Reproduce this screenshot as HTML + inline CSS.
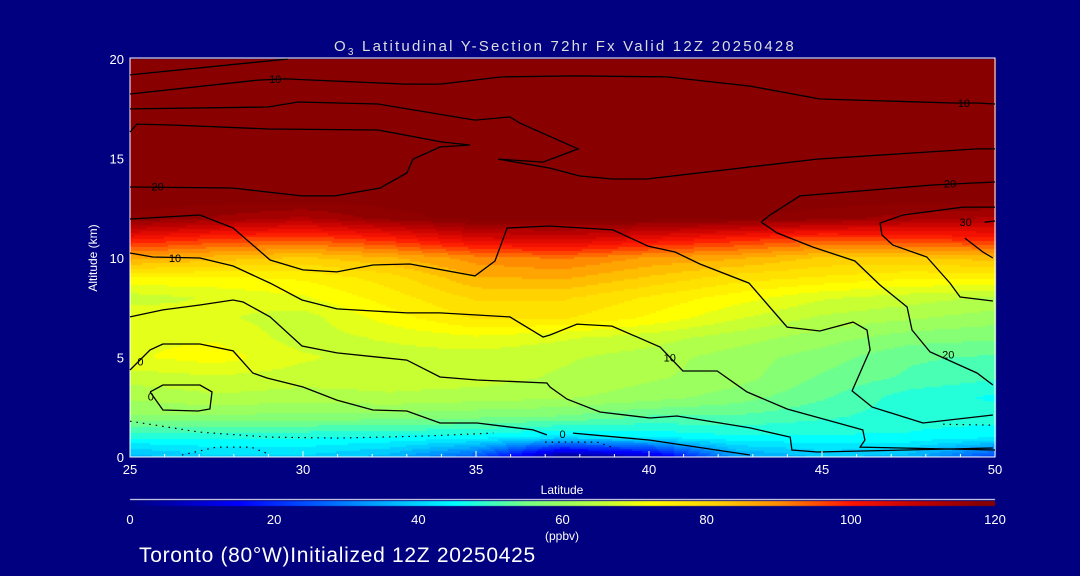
<!DOCTYPE html>
<html><head><meta charset="utf-8"><style>
html,body{margin:0;padding:0;background:#000080;}
#wrap{position:relative;width:1080px;height:576px;background:#000080;overflow:hidden;font-family:"Liberation Sans",sans-serif;color:#fff;}
canvas{position:absolute;left:0;top:0;}
svg{position:absolute;left:0;top:0;}
</style></head><body>
<div id="wrap">
<canvas id="cv" width="1080" height="576"></canvas>
<svg id="sv" width="1080" height="576"></svg>
</div>
<script>
// ---- data ----
const lats = [25, 27.5, 30, 32.5, 35, 37.5, 40, 42.5, 45, 47.5, 50];
const alts = [0,1,2,3,4,5,6,7,8,9,10,11,12,13,20];
const ozone = [
 [36,40,40,36,25,0,8,33,38,36,22],
 [47,47,47,46,45,42,44,46,46,46,44],
 [58,58,57,57,56,55,52,52,50,48,48],
 [62,64,63,64,63,62,60,57,53,48,46],
 [66,67,66,66,66,64,62,60,55,52,50],
 [70,72,68,66,66,65,63,60,57,53,52],
 [70,70,66,68,70,68,66,63,60,57,56],
 [70,68,66,72,77,77,73,68,64,62,60],
 [66,68,70,75,80,80,76,72,68,66,64],
 [73,73,74,78,85,86,82,78,76,74,74],
 [87,84,82,85,90,92,88,86,82,82,84],
 [102,98,96,100,106,108,104,100,96,98,100],
 [118,115,112,117,120,120,120,119,117,114,112],
 [120,120,120,120,120,120,120,120,120,120,120],
 [120,120,120,120,120,120,120,120,120,120,120]
];
const xTicks = [25,30,35,40,45,50];
const yTicks = [0,5,10,15,20];
const cbTicks = [0,20,40,60,80,100,120];
const cA = [[25,11.96],[27.02,12.16],[27.98,11.51],[29.05,9.9],[30.0,9.4],[30.98,9.3],[32.02,9.65],[33.09,9.7],[34.97,9.1],[35.55,9.85],[35.9,11.51],[37.14,11.61],[38.96,11.41],[39.97,10.6],[40.75,10.3],[41.47,9.7],[42.89,8.74],[43.99,6.53],[44.94,6.33],[45.9,6.78],[46.3,6.38],[46.39,5.38],[45.87,3.32],[46.45,2.51],[47.92,1.71],[49.94,2.11]];
const cB = [[25,10.25],[25.66,10.05],[27.02,10.0],[27.98,9.6],[29.05,8.74],[29.97,7.89],[30.98,7.44],[33.0,7.24],[33.96,7.24],[35.98,7.04],[36.94,6.03],[37.14,6.13],[37.92,6.68],[38.93,6.58],[40.32,5.53],[40.98,4.32],[41.97,4.32],[42.83,3.27],[43.99,2.41],[46.18,1.36],[46.24,0.85],[46.1,0.5],[50,0.35]];
const cC = [[25,7.04],[25.95,7.39],[27.02,7.64],[27.98,7.89],[28.27,7.79],[29.05,7.04],[29.97,5.58],[30.98,5.23],[33.0,4.87],[33.96,4.02],[35.03,3.87],[37.05,3.72],[37.14,3.52],[37.63,2.91],[38.58,2.26],[40.03,1.96],[40.81,2.06],[42.92,1.46],[44.08,1.0],[44.13,0.35],[44.86,0.25],[49.94,0.45]];
const cD = [[25,4.37],[25.58,5.38],[25.95,5.68],[27.02,5.68],[27.98,5.33],[28.55,4.22],[28.96,3.97],[30.0,3.52],[30.98,2.86],[32.02,2.36],[33.0,2.31],[33.96,1.71],[35.03,1.71],[36.65,1.36],[37.05,1.11]];
const cD2 = [[37.8,1.2],[40.03,0.85],[42.92,0.1]];
const cLoop = [[25.58,3.27],[25.95,3.62],[27.02,3.62],[27.37,3.27],[27.31,2.41],[26.97,2.31],[25.95,2.36],[25.58,3.27]];
const cE = [[43.24,11.81],[43.7,11.26],[44.74,10.55],[45.95,9.85],[46.68,8.64],[47.46,7.54],[47.6,6.38],[48.12,5.28],[49.48,4.22],[49.94,3.62]];
const cE2 = [[43.24,11.81],[43.5,12.16],[44.36,13.12],[48.2,13.67],[50,13.82]];
const cF = [[50,12.56],[49.08,12.56],[47.34,12.16],[46.68,11.76],[46.73,11.16],[47.05,10.65],[48.03,10.05],[48.7,8.74],[48.99,8.04],[49.94,7.84]];
const cF2 = [[49.7,11.8],[50,11.86]];
const cF3 = [[49.13,11.0],[49.65,10.3],[49.94,10.0]];
const cT1 = [[25,19.2],[29.57,20.0]];
const cT2 = [[25,18.24],[28.7,18.94],[29.48,19.0],[32.95,18.74],[33.96,18.74],[35.75,19.1],[37.86,19.15],[40.52,19.1],[42.92,18.64],[44.94,17.99],[48.79,17.79],[49.45,17.79],[50,17.74]];
const cT3 = [[25,17.49],[28.99,17.59],[29.86,17.84],[32.17,17.74],[34.97,16.93],[35.98,17.09],[36.27,16.78],[37.95,15.48],[36.94,14.82],[35.64,14.97]];
const cT3b = [[35.64,14.97],[37.14,14.52],[38.0,14.12],[38.96,13.97],[39.94,13.97],[44.86,14.97],[49.48,15.48],[50,15.48]];
const cT4 = [[25,16.33],[25.2,16.73],[26.3,16.68],[28.99,16.48],[32.17,16.43],[34.02,15.83],[34.83,15.68],[33.96,15.58],[33.18,14.97],[33.0,14.27],[32.23,13.52],[30.92,13.12],[29.97,13.12],[27.95,13.52],[25,13.57]];
const dots1 = [[25,1.8],[27,1.25],[29,1.0],[31,0.95],[33.5,1.05],[35.5,1.2]];
const dots2 = [[26.5,0.1],[27.5,0.5],[28.5,0.5],[29.0,0.15]];
const dots3 = [[37,0.75],[38.5,0.75],[39.0,0.45]];
const dots4 = [[48.5,1.65],[50,1.6]];
const labels = [["10",26.3,10.0],["10",40.6,5.0],["0",37.5,1.15],["0",25.3,4.8],["0",25.6,3.05],["20",48.65,5.15],["20",48.7,13.75],["30",49.15,11.8],["10",29.2,19.0],["10",49.1,17.8],["20",25.8,13.6]];

// ---- axes ----
const PL=130, PR=995, PT=59, PB=457;
const X = lat => PL + (lat-25)/25*(PR-PL);
const Y = alt => PB - alt/20*(PB-PT);
const stops = [[0,[0,0,128]],[15,[0,0,255]],[30,[0,128,255]],[45,[0,255,255]],[55,[120,255,130]],[65,[190,255,60]],[72,[255,255,0]],[82,[255,205,0]],[90,[255,140,0]],[100,[255,20,0]],[110,[190,0,0]],[118,[136,0,0]],[120,[136,0,0]]];
function cmap(v){
  v=Math.max(0,Math.min(120,v));
  for(let i=1;i<stops.length;i++){ if(v<=stops[i][0]){const a=stops[i-1],b=stops[i],t=(v-a[0])/(b[0]-a[0]||1);
    return 'rgb('+a[1].map((c,k)=>Math.round(c+(b[1][k]-c)*t)).join(',')+')';}}
  return 'rgb(136,0,0)';
}
function idx(arr,v){for(let i=0;i<arr.length-1;i++){if(v<=arr[i+1])return i;}return arr.length-2;}
function val(lat,alt){
  const i=idx(lats,lat), j=idx(alts,alt);
  const tx=(lat-lats[i])/(lats[i+1]-lats[i]), ty=(alt-alts[j])/(alts[j+1]-alts[j]);
  const a=ozone[j][i],b=ozone[j][i+1],c=ozone[j+1][i],d=ozone[j+1][i+1];
  return (a*(1-tx)+b*tx)*(1-ty)+(c*(1-tx)+d*tx)*ty;
}
const cv=document.getElementById('cv'), ctx=cv.getContext('2d');
const step=2;
for(let px=PL;px<PR;px+=step){for(let py=PT;py<PB;py+=step){
  const lat=25+(px+1-PL)/(PR-PL)*25, alt=(PB-py-1)/(PB-PT)*20;
  let v=val(lat,alt); v=Math.round(v/3)*3;
  ctx.fillStyle=cmap(v); ctx.fillRect(px,py,step,step);
}}
// colorbar
for(let px=PL;px<PR;px++){ctx.fillStyle=cmap((px-PL)/(PR-PL)*120);ctx.fillRect(px,501,1,5);}
ctx.fillStyle='#fff';ctx.fillRect(PL,499,PR-PL,1);

const sv=document.getElementById('sv'), NS='http://www.w3.org/2000/svg';
function mk(tag,attrs,parent){const e=document.createElementNS(NS,tag);for(const k in attrs)e.setAttribute(k,attrs[k]);(parent||sv).appendChild(e);return e;}
function txt(s,x,y,size,anchor,fill){const t=mk('text',{x:x,y:y,'font-size':size,'text-anchor':anchor||'middle',fill:fill||'#fff','font-family':'Liberation Sans, sans-serif'});t.textContent=s;return t;}
// frame
const fr=mk('rect',{x:PL,y:PT-1,width:PR-PL,height:PB-PT+1,fill:'none',stroke:'#fff','stroke-width':1});


// contours
function line(pts,name,dash){
  const p=mk('polyline',{points:pts.map(q=>X(q[0]).toFixed(1)+','+Y(q[1]).toFixed(1)).join(' '),fill:'none',stroke:'#000','stroke-width':dash?1.2:1.3});
  if(dash)p.setAttribute('stroke-dasharray','1.5 5');
  
  
}
[[cA,'contour-a'],[cB,'contour-b'],[cC,'contour-c'],[cD,'contour-d'],[cD2,'contour-d2'],[cLoop,'contour-loop'],[cE,'contour-e'],[cE2,'contour-e2'],[cF,'contour-f'],[cF2,'contour-f2'],[cF3,'contour-f3'],[cT1,'contour-t1'],[cT2,'contour-t2'],[cT3,'contour-t3'],[cT3b,'contour-t3b'],[cT4,'contour-t4']].forEach(a=>line(a[0],a[1],false));
[[dots1,'neg-contour-1'],[dots2,'neg-contour-2'],[dots3,'neg-contour-3'],[dots4,'neg-contour-4']].forEach(a=>line(a[0],a[1],true));
labels.forEach(l=>{const t=txt(l[0],X(l[1]),Y(l[2])+4,11,'middle','#000');
  
  });
// ticks
xTicks.forEach(v=>{const t=txt(String(v),X(v),474,13);
  
  
  mk('line',{x1:X(v),y1:PB,x2:X(v),y2:PB-6,stroke:'#fff'});});
for(let v=26;v<50;v++){if(v%5)mk('line',{x1:X(v),y1:PB,x2:X(v),y2:PB-3,stroke:'#fff'});}
yTicks.forEach(v=>{const t=txt(String(v),124,Y(v)+5,13,'end');
  
  });
cbTicks.forEach(v=>{const t=txt(String(v),PL+v/120*(PR-PL),524,13);
  
  });
let t;
t=txt('Latitude',562,494,12);


t=txt('(ppbv)',562,540,12);


t=txt('Altitude (km)',0,0,12);t.setAttribute('transform','translate(97,258) rotate(-90)');


t=mk('text',{x:565,y:51,'font-size':15,'text-anchor':'middle',fill:'#ddd','font-family':'Liberation Sans, sans-serif','letter-spacing':'2.2'});
t.setAttribute('xml:space','preserve');
t.innerHTML='O<tspan font-size="10" dy="4">3</tspan><tspan dy="-4"> Latitudinal Y-Section 72hr  Fx Valid 12Z 20250428</tspan>';


t=txt('Toronto (80°W)Initialized 12Z 20250425',139,562,21,'start');
t.setAttribute('letter-spacing','0.7');


</script>
</body></html>
